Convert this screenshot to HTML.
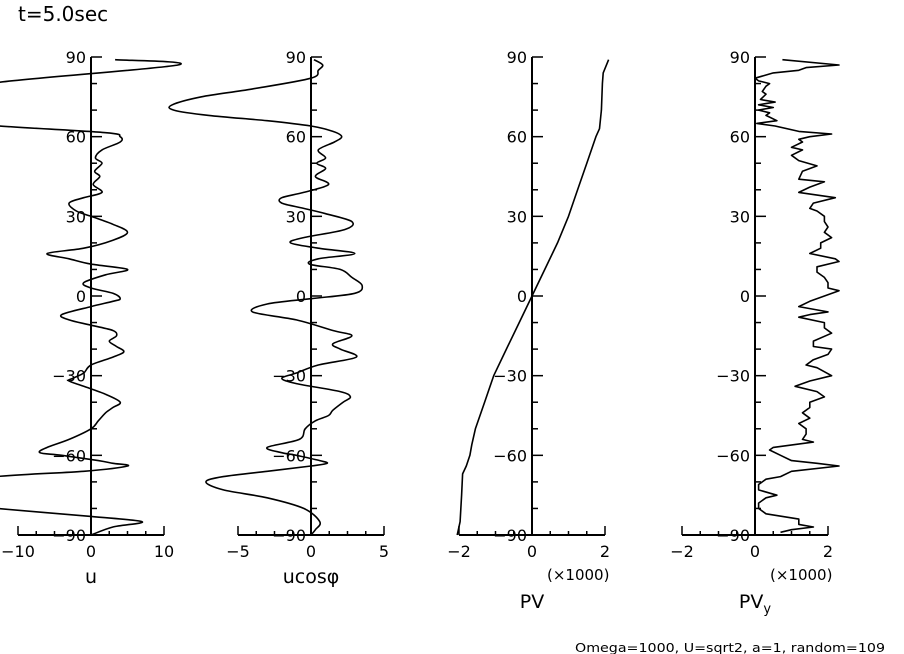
<!DOCTYPE html>
<html><head><meta charset="utf-8"><style>
body{margin:0;background:#fff;}
svg{display:block;font-family:"DejaVu Sans","Liberation Sans",sans-serif;}
</style></head><body>
<svg id="c" width="904" height="654" viewBox="0 0 904 654">
<text x="18" y="21" font-size="20">t=5.0sec</text>
<text x="575" y="652" font-size="12" font-family="DejaVu Sans, sans-serif" textLength="310" lengthAdjust="spacingAndGlyphs">Omega=1000, U=sqrt2, a=1, random=109</text>
</svg>
<script>
const latTicks=[90,60,30,0,-30,-60,-90];
const uLat=[89,87,80.5,75,70,66,64,61.5,60,58,55,52,50,47,45,42,39,37,35,32,30,27,24,21,18,16,14,12,10,8,5,3,1,-1,-2,-4,-7,-9,-11,-13,-15,-17,-19,-21,-23,-26,-29,-31,-32,-34,-37,-40,-42,-44,-47,-50,-54,-57,-59,-60,-62,-63,-64,-66,-68,-72,-75,-78,-80,-83,-85,-87,-90];
const uVal=[3.3,11.9,-12.5,-24,-27,-20,-12.5,2,4,4,1.5,0.6,1.5,0.5,1.2,0.3,1.5,-1,-3,-2,0,3,5,3,-1,-6,-3,0,5,2,-1,0,3,4,3,0,-4,-3,0,3,3.5,2.5,3.5,4.5,3,0,-1,-2.5,-3,-1,2,4,3,2,1,0,-3,-6,-7,-4,1,3,5,-1,-13,-25,-30,-20,-13,0,7,3,0];
const ucLat=[89,87,85,82,78,75,72,70,68,66,64,62,60,58,55,52,50,48,45,42,39,37,35,33,31,28,25,22,20,18,16,14,12,10,7,4,1,-1,-3,-6,-9,-13,-15,-18,-20,-23,-26,-29,-31,-33,-36,-38,-40,-43,-45,-47,-50,-54,-57,-59,-60,-62,-63,-64,-66,-68,-70,-73,-76,-80,-85,-88,-90];
const ucVal=[0.2,0.8,0.5,0,-4,-7.5,-9.5,-9.4,-7,-3,0,1.5,2.1,1.6,0.5,1,0.4,1,0.3,1.2,-0.5,-2,-2,-0.5,1,2.8,2.3,-0.5,-1.4,0.5,3.0,0.5,-0.1,2,2.8,3.5,3,0,-3,-4,-1,1.5,2.8,1.5,2.0,3.1,0.5,-1,-2,-1,2,2.7,2.2,1.5,1.2,0.3,-0.4,-0.8,-3,-2,-1,0.6,1.1,0,-3,-6,-7.2,-6,-3,-0.5,0.6,0.3,0];
const pvLat=[89,84,80,70,63,60,50,40,30,20,10,0,-10,-20,-30,-40,-50,-56,-60,-64,-67,-75,-85,-90];
const pvVal=[2.1,1.95,1.93,1.9,1.85,1.75,1.5,1.25,1.0,0.7,0.35,0,-0.35,-0.7,-1.05,-1.3,-1.55,-1.65,-1.7,-1.8,-1.9,-1.93,-1.97,-2.05];
const pyLat=[89,87,86,85,84,82,81,80,79,77,76,74,73,72,71,70,69,68,66,65,64,62,61,60,59,58,56,55,53,51,49,47,44,43,41,39,37,35,33,32,30,28,26,24,22,20,18,16,14,13,11,9,7,5,3,2,0,-2,-4,-6,-7,-8,-10,-12,-14,-17,-19,-20,-22,-24,-26,-27,-30,-32,-34,-36,-38,-40,-42,-44,-46,-48,-50,-52,-54,-55,-57,-58,-60,-62,-63,-64,-66,-68,-69,-71,-73,-75,-76,-78,-80,-82,-84,-86,-87,-88,-89];
const pyVal=[0.75,2.3,1.4,1.2,0.5,0,0.1,0.4,0.3,0.2,0.3,0.15,0.55,0.1,0.5,0.1,0.4,0.3,0.6,0.05,0.55,1.2,2.1,1.5,1.2,1.3,1.0,1.3,1.0,1.2,1.7,1.3,1.2,1.9,1.5,1.2,2.2,1.6,1.5,1.7,1.9,1.9,2.0,1.9,2.1,1.8,1.8,1.5,2.2,2.3,1.7,1.7,1.9,2.0,2.0,2.3,1.9,1.5,1.2,2.0,1.5,1.2,1.9,1.9,2.1,1.6,1.6,2.1,2.0,1.6,1.4,1.7,2.1,1.5,1.1,1.7,1.9,1.5,1.5,1.3,1.5,1.2,1.4,1.4,1.3,1.6,0.5,0.4,0.7,1.0,1.7,2.3,1.0,0.7,0.3,0.1,0.1,0.6,0.3,0.1,0.1,0.3,1.2,1.2,1.6,1.0,0.7];

const svg=document.getElementById('c');
const NS='http://www.w3.org/2000/svg';
const Y0=296,Y90=57;
function yS(lat){return Y0-(lat/90)*(Y0-Y90);}
function mk(tag,attrs){const e=document.createElementNS(NS,tag);for(const k in attrs)e.setAttribute(k,attrs[k]);svg.appendChild(e);return e;}

function pathFrom(pts,smooth){
  let d='M'+pts[0][0].toFixed(1)+' '+pts[0][1].toFixed(1);
  for(let i=0;i<pts.length-1;i++){
    if(!smooth){d+='L'+pts[i+1][0].toFixed(1)+' '+pts[i+1][1].toFixed(1);continue;}
    const p0=pts[Math.max(0,i-1)],p1=pts[i],p2=pts[i+1],p3=pts[Math.min(pts.length-1,i+2)];
    const c1x=p1[0]+(p2[0]-p0[0])/6,c1y=p1[1]+(p2[1]-p0[1])/6;
    const c2x=p2[0]-(p3[0]-p1[0])/6,c2y=p2[1]-(p3[1]-p1[1])/6;
    d+='C'+c1x.toFixed(1)+' '+c1y.toFixed(1)+' '+c2x.toFixed(1)+' '+c2y.toFixed(1)+' '+p2[0].toFixed(1)+' '+p2[1].toFixed(1);
  }
  return d;
}

function panel(id,cx,range,halfPx,xticks,lats,vals,name,nameY,scaleNote,sub,smooth){
  const xS=v=>cx+v/range*halfPx;
  const ax=mk('line',{x1:cx,y1:yS(90),x2:cx,y2:yS(-90),stroke:'#000','stroke-width':2});
  
  
  for(let l=-90;l<=90;l+=10){
    const major=l%30===0;
    const t=mk('line',{x1:cx,y1:yS(l),x2:cx+(major?11:6),y2:yS(l),stroke:'#000','stroke-width':1.5});
    
    
  }
  latTicks.forEach(l=>{
    const t=mk('text',{x:cx-5,y:yS(l)+6,'font-size':16,'text-anchor':'end'});
    t.textContent=(l<0?'\u2212':'')+Math.abs(l);
    
    
  });
  const yb=yS(-90);
  const xa=mk('line',{x1:xS(-range),y1:yb,x2:xS(range),y2:yb,stroke:'#000','stroke-width':2});
  
  
  for(let i=-4;i<=4;i++){
    const v=range*i/4;const end=Math.abs(i)===4;
    const t=mk('line',{x1:xS(v),y1:yb,x2:xS(v),y2:yb-(end?9:4),stroke:'#000','stroke-width':1.5});
    
    
  }
  xticks.forEach(v=>{
    const t=mk('text',{x:xS(v),y:yb+22,'font-size':16,'text-anchor':'middle'});
    t.textContent=(v<0?'\u2212':'')+Math.abs(v);
    
    
  });
  const pts=lats.map((l,i)=>[xS(vals[i]),yS(l)]);
  const p=mk('path',{d:pathFrom(pts,smooth),fill:'none',stroke:'#000','stroke-width':1.6,'stroke-linejoin':'round'});
  
  
  const n=mk('text',{x:cx,y:nameY,'font-size':19,'text-anchor':'middle'});
  n.textContent=name;
  if(sub){const s=document.createElementNS(NS,'tspan');s.setAttribute('font-size',13);s.setAttribute('dy',5);s.textContent=sub;n.appendChild(s);}
  
  
  if(scaleNote){
    const s=mk('text',{x:xS(range)-58,y:yb+45,'font-size':15});
    s.textContent='(\u00d71000)';
    
    
  }
}
panel('u',91,10,73,[-10,0,10],uLat,uVal,'u',583,false,'',true);
panel('ucos',311,5,73,[-5,0,5],ucLat,ucVal,'ucos\u03c6',583,false,'',true);
panel('pv',532,2,73,[-2,0,2],pvLat,pvVal,'PV',608,true,'',false);
panel('pvy',755,2,73,[-2,0,2],pyLat,pyVal,'PV',608,true,'y',false);
</script>
</body></html>
